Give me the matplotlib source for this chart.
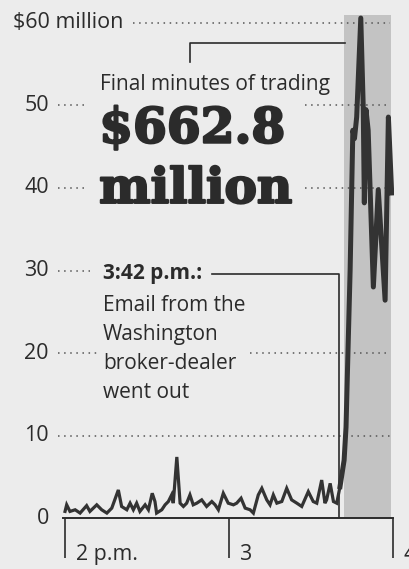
import matplotlib
matplotlib.use("Agg")
import matplotlib.pyplot as plt
import matplotlib.patheffects as pe
from matplotlib import font_manager
import numpy as np

# minutes after 2 p.m. and trading volume ($ millions)
minutes = [0, 0.6, 1.8, 3.7, 5.5, 7.9, 9.1, 11.6, 13.4, 15.3, 17.1, 19.5, 20.7,
           22.6, 23.8, 25.0, 26.2, 27.4, 29.3, 30.5, 31.9, 32.9, 33.5, 35.4,
           36.6, 37.8, 39.0, 39.6, 40.9, 42.1, 43.3, 44.5, 45.7, 46.9, 48.2,
           50.0, 51.8, 53.7, 54.9, 56.1, 57.9, 59.7, 61.6, 62.8, 64.4, 65.9,
           67.7, 68.9, 70.7, 72.0, 73.8, 75.0, 76.2, 77.5, 79.3, 81.1, 82.9,
           84.8, 86.6, 89.0, 90.8, 92.1, 93.9, 95.1, 95.7, 97.0, 98.2, 99.4,
           100.6, 102.1, 102.8, 103.5, 104.3, 105.3, 105.9, 106.7, 108.2,
           109.1, 109.5, 110.1, 110.9, 112.8, 114.6, 117.1, 118.3, 119.5]
volume = [0.8, 1.6, 0.8, 1.0, 0.6, 1.5, 0.8, 1.6, 1.0, 0.6, 1.2, 3.4, 1.4,
          1.0, 1.8, 1.0, 1.8, 0.8, 1.6, 1.0, 3.0, 2.0, 0.6, 1.0,
          1.6, 2.0, 2.8, 1.8, 7.4, 1.8, 1.4, 1.8, 2.8, 1.6, 1.8,
          2.2, 1.4, 2.0, 1.6, 1.0, 3.0, 1.8, 1.6, 1.8, 2.4, 1.2,
          1.0, 0.6, 2.8, 3.6, 2.2, 1.6, 2.8, 1.8, 2.0, 3.6, 2.2,
          1.8, 1.4, 3.2, 2.0, 1.8, 4.6, 1.8, 2.2, 4.2, 2.0, 1.8,
          3.8, 7.0, 11.0, 20.0, 30.0, 47.0, 46.0, 48.6, 60.6,
          49.8, 38.2, 49.5, 47.0, 28.0, 39.8, 26.4, 48.6, 39.4]

ytick_vals = [0, 10, 20, 30, 40, 50]
ytick_labels = ["0", "10", "20", "30", "40", "50"]
xtick_vals = [0, 60, 120]
xtick_labels = ["2 p.m.", "3", "4"]
final_start, final_end = 102.2, 119.2

installed = {f.name for f in font_manager.fontManager.ttflist}


def pick(*names):
    for n in names:
        if n in installed:
            return n
    return "DejaVu Sans"


sans = pick("Open Sans", "Noto Sans", "DejaVu Sans")
slab = pick("DejaVu Serif Condensed", "DejaVu Serif")
big = 38 if slab == "DejaVu Serif Condensed" else 35

ink = "#2b2b2b"
bg = "#ececec"

fig = plt.figure(figsize=(4.09, 5.69), dpi=100)
fig.patch.set_facecolor(bg)
ax = fig.add_axes([0.1423, 0.0896, 0.822, 0.899])
ax.set_xlim(-2.5, 120.5)
ax.set_ylim(0, 62)
ax.axis("off")

# shaded final minutes
ax.fill_between([final_start, final_end], 0, 61, color="#c3c3c3", lw=0, zorder=1)

# dotted gridlines, broken around the text
grid = [(60, 24.9, 118.9), (50, -2.6, 7.3), (50, 87.8, 118.9),
        (40, -2.6, 7.3), (40, 87.8, 118.9), (30, -2.6, 9.1),
        (20, -2.6, 12.1), (20, 67.7, 118.9), (10, -2.6, 118.9)]
for y, x0, x1 in grid:
    ax.plot([x0, x1], [y, y], color="#555555", lw=1.1,
            ls=(0, (1, 3)), zorder=2, clip_on=False)

ax.plot(minutes, volume, color="#333333", lw=2.3, zorder=4,
        solid_joinstyle="miter")
m = np.array(minutes)
v = np.array(volume)
late = m >= 100
ax.plot(m[late], v[late], color="#333333", lw=3.6, zorder=4)

# baseline and ticks
ax.plot([-0.7, 120], [0, 0], color=ink, lw=1.4, zorder=5, clip_on=False)
ax.vlines(xtick_vals, -4.9, 0, color=ink, lw=1.2, clip_on=False)
for x, lab in zip(xtick_vals, xtick_labels):
    ax.text(x + 3.9, -5.1, lab, fontsize=15.4, family=sans, color=ink,
            ha="left", va="baseline", clip_on=False)

for y, lab in zip(ytick_vals, ytick_labels):
    ax.text(-5.9, y, lab, fontsize=15.5, family=sans, color=ink,
            ha="right", va="center", clip_on=False)
ax.text(-19.0, 60, "$60 million", fontsize=15.5, family=sans, color=ink,
        ha="left", va="center", clip_on=False)

# annotations
heavy = [pe.withStroke(linewidth=1.6, foreground=ink)]
ax.plot([45.7, 45.7, 102.4], [55.3, 57.6, 57.6], color=ink, lw=1.2, zorder=3)
ax.text(12.8, 52.6, "Final minutes of trading", fontsize=15, family=sans,
        color=ink, ha="left", va="center")
ax.text(12.5, 45.5, "$662.8", fontsize=big, family=slab, fontweight="bold",
        color=ink, ha="left", va="baseline", path_effects=heavy)
ax.text(12.5, 38.2, "million", fontsize=big, family=slab, fontweight="bold",
        color=ink, ha="left", va="baseline", path_effects=heavy)

ax.plot([53.8, 100.2, 100.2], [29.6, 29.6, 0], color=ink, lw=1.2, zorder=3)
ax.text(13.9, 29.6, "3:42 p.m.:", fontsize=15, family=sans, fontweight="bold",
        color=ink, ha="left", va="center")
ax.text(13.9, 27.0, "Email from the\nWashington\nbroker-dealer\nwent out",
        fontsize=15, family=sans, color=ink, ha="left", va="top",
        linespacing=1.5)

fig.savefig("out.png", dpi=100, facecolor=bg)
